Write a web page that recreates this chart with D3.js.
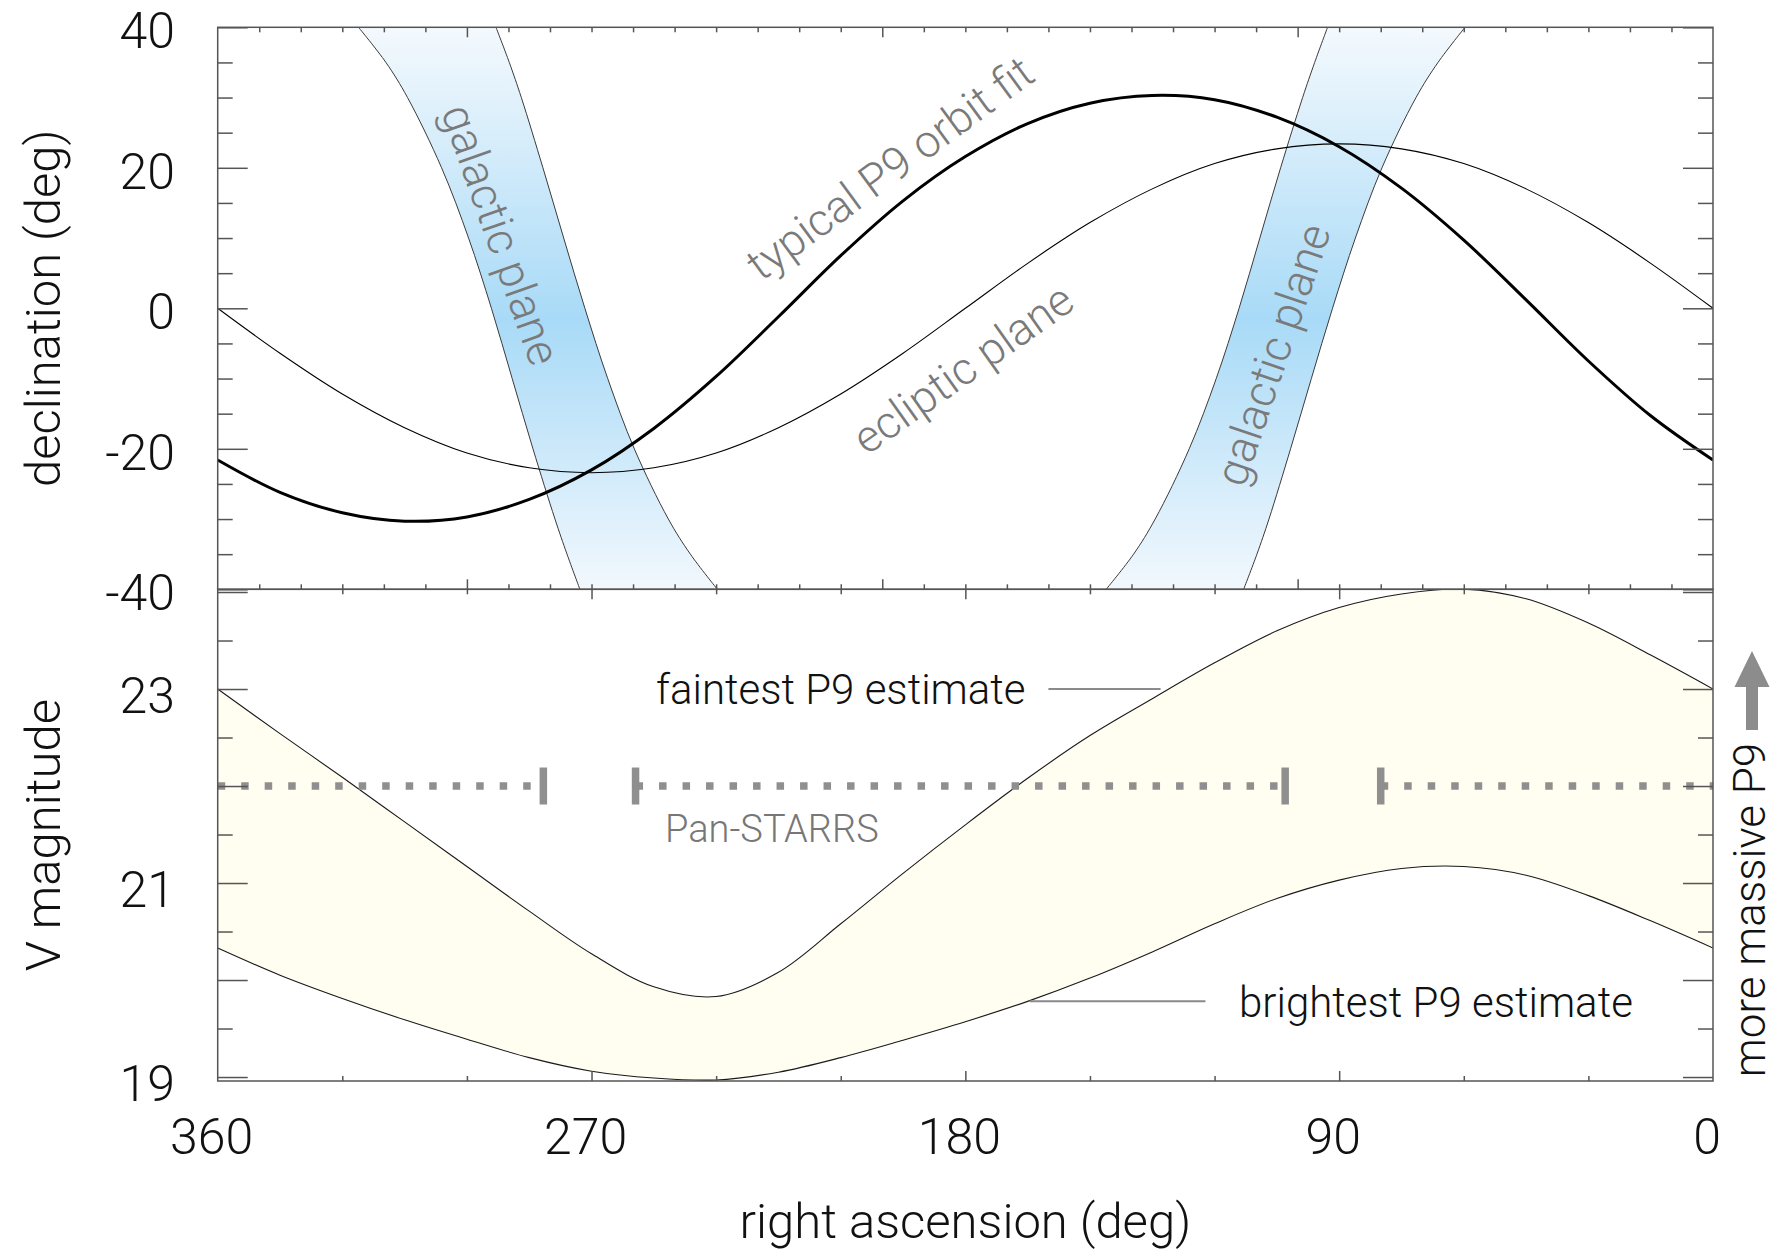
<!DOCTYPE html>
<html>
<head>
<meta charset="utf-8">
<script src="https://cdn.jsdelivr.net/npm/d3@7"></script>
<style>
  body { margin: 0; background: #fff; }
  svg text { font-family: Roboto, "Liberation Sans", sans-serif; font-weight: 300; }
</style>
</head>
<body>
<svg id="chart" width="1777" height="1252"></svg>
<script>
// right ascension grid (deg), shared by the curves below
const raGrid = [360, 345, 330, 315, 300, 285, 270, 255, 240, 225, 210, 195, 180,
                165, 150, 135, 120, 105, 90, 75, 60, 45, 30, 15, 0];

// declination of the typical P9 orbit fit and of the ecliptic (deg)
const p9Dec = [-21.6, -26.2, -29.1, -30.3, -29.7, -27.2, -23.0, -17.1, -9.7, -1.2, 7.5, 15.3, 21.6,
               26.3, 29.2, 30.3, 29.7, 27.2, 23.0, 17.1, 9.7, 1.2, -7.5, -15.3, -21.6];
const eclipticDec = [0, -6.4, -12.2, -17.0, -20.6, -22.7, -23.4, -22.7, -20.6, -17.0, -12.2, -6.4, 0,
                     6.4, 12.2, 17.0, 20.6, 22.7, 23.4, 22.7, 20.6, 17.0, 12.2, 6.4, 0];

// galactic plane bands: RA of both edges at each declination
const galDec = [-40, -35, -30, -20, -10, 0, 10, 20, 30, 35, 40];
const galWestEdgeA = [239.7, 246.2, 251.5, 259.7, 266.1, 271.6, 276.7, 281.7, 286.9, 289.8, 293.0];
const galWestEdgeB = [272.8, 275.9, 278.8, 284.1, 289.1, 294.1, 299.6, 306.1, 314.3, 319.5, 326.1];
const galEastEdgeA = [146.1, 139.5, 134.3, 126.1, 119.6, 114.1, 109.1, 104.1, 98.8, 95.9, 92.8];
const galEastEdgeB = [113.0, 109.8, 106.9, 101.7, 96.7, 91.6, 86.1, 79.7, 71.5, 66.2, 59.7];

// V magnitude range of P9
const faintestMag = [23.00, 22.54, 22.09, 21.63, 21.17, 20.71, 20.27, 19.93, 19.83, 20.08, 20.58, 21.10, 21.60,
                     22.08, 22.52, 22.90, 23.27, 23.60, 23.84, 23.98, 24.03, 23.93, 23.68, 23.35, 23.00];
const brightestMag = [20.33, 20.05, 19.81, 19.59, 19.39, 19.20, 19.06, 18.99, 18.97, 19.05, 19.20, 19.38, 19.57,
                      19.78, 20.02, 20.29, 20.58, 20.84, 21.03, 21.15, 21.17, 21.08, 20.87, 20.61, 20.33];

// Pan-STARRS limit and RA coverage
const panstarrsLimit = 22;
const panstarrsSegments = [[360, 281.6], [259.4, 103], [80, 0]];

// tick labels
const decTickLabels = [40, 20, 0, -20, -40];
const magTickLabels = [23, 21, 19];
const raTickLabels = [360, 270, 180, 90, 0];

const PLOT_L = 217.7, PLOT_R = 1713, TOP_T = 27.3, TOP_B = 589.3, BOT_B = 1081;
const AXIS_COLOR = '#555';

const svg = d3.select('#chart');

const x = d3.scaleLinear().domain([360, 0]).range([PLOT_L, PLOT_R]);
const yTop = d3.scaleLinear().domain([-40, 40]).range([TOP_B, TOP_T]);
const yBot = d3.scaleLinear().domain([18.959, 24.028]).range([BOT_B, TOP_B]);

const defs = svg.append('defs');
const grad = defs.append('linearGradient')
    .attr('id', 'galGrad')
    .attr('gradientUnits', 'userSpaceOnUse')
    .attr('x1', 0).attr('y1', TOP_T).attr('x2', 0).attr('y2', TOP_B);
grad.append('stop').attr('offset', 0).attr('stop-color', '#f4f9fd');
grad.append('stop').attr('offset', 0.52).attr('stop-color', '#a8daf7');
grad.append('stop').attr('offset', 1).attr('stop-color', '#f2f8fd');

defs.append('clipPath').attr('id', 'clipTop')
    .append('rect').attr('x', PLOT_L).attr('y', TOP_T)
    .attr('width', PLOT_R - PLOT_L).attr('height', TOP_B - TOP_T);
defs.append('clipPath').attr('id', 'clipBot')
    .append('rect').attr('x', PLOT_L).attr('y', TOP_B)
    .attr('width', PLOT_R - PLOT_L).attr('height', BOT_B - TOP_B);

const curve = d3.curveCatmullRom.alpha(0.5);

// ---------- top panel ----------
const topG = svg.append('g').attr('clip-path', 'url(#clipTop)');

function drawBand(edgeA, edgeB) {
    const rows = galDec.map((d, i) => ({dec: d, a: edgeA[i], b: edgeB[i]}));
    topG.append('path')
        .datum(rows)
        .attr('fill', 'url(#galGrad)')
        .attr('d', d3.area().curve(curve)
            .y(d => yTop(d.dec)).x0(d => x(d.a)).x1(d => x(d.b)));
    [edgeA, edgeB].forEach(edge => {
        topG.append('path')
            .datum(galDec.map((d, i) => [edge[i], d]))
            .attr('fill', 'none')
            .attr('stroke', '#3a3a3a')
            .attr('stroke-width', 1)
            .attr('d', d3.line().curve(curve).x(d => x(d[0])).y(d => yTop(d[1])));
    });
}
drawBand(galWestEdgeA, galWestEdgeB);
drawBand(galEastEdgeA, galEastEdgeB);

const decLine = d3.line().curve(curve).x(d => x(d[0])).y(d => yTop(d[1]));

topG.append('path')
    .datum(raGrid.map((r, i) => [r, eclipticDec[i]]))
    .attr('fill', 'none').attr('stroke', '#000').attr('stroke-width', 1.1)
    .attr('d', decLine);

topG.append('path')
    .datum(raGrid.map((r, i) => [r, p9Dec[i]]))
    .attr('fill', 'none').attr('stroke', '#000').attr('stroke-width', 3)
    .attr('d', decLine);

// ---------- bottom panel ----------
const botG = svg.append('g').attr('clip-path', 'url(#clipBot)');
const magRows = raGrid.map((r, i) => ({ra: r, faint: faintestMag[i], bright: brightestMag[i]}));

botG.append('path')
    .datum(magRows)
    .attr('fill', '#fffef0')
    .attr('d', d3.area().curve(curve)
        .x(d => x(d.ra)).y0(d => yBot(d.bright)).y1(d => yBot(d.faint)));

['faint', 'bright'].forEach(key => {
    botG.append('path')
        .datum(magRows)
        .attr('fill', 'none').attr('stroke', '#1a1a1a').attr('stroke-width', 1.1)
        .attr('d', d3.line().curve(curve).x(d => x(d.ra)).y(d => yBot(d[key])));
});

// Pan-STARRS coverage
const psY = yBot(panstarrsLimit);
panstarrsSegments.forEach(seg => {
    botG.append('line')
        .attr('x1', x(seg[0])).attr('x2', x(seg[1]))
        .attr('y1', psY).attr('y2', psY)
        .attr('stroke', '#8f8f8f').attr('stroke-width', 7.5)
        .attr('stroke-dasharray', '7.5,16');
    seg.filter(r => r !== 360 && r !== 0).forEach(r => {
        botG.append('line')
            .attr('x1', x(r)).attr('x2', x(r))
            .attr('y1', psY - 18.5).attr('y2', psY + 18.5)
            .attr('stroke', '#8f8f8f').attr('stroke-width', 7.5);
    });
});

// ---------- ticks ----------
function ticks(axisFn, scale, values, len, tx, ty) {
    const g = svg.append('g')
        .attr('transform', `translate(${tx},${ty})`)
        .call(axisFn(scale).tickValues(values).tickSize(-len).tickSizeOuter(0).tickFormat(''));
    g.select('.domain').remove();
    g.selectAll('line').attr('stroke', AXIS_COLOR).attr('stroke-width', 1.5);
}

const range = (a, b, s) => d3.range(a, b + s / 2, s);
const decMajor = range(-40, 40, 20);
const decMinor = range(-40, 40, 5).filter(v => !decMajor.includes(v));
const magMajor = range(19, 24, 1);
const magMinor = range(19.5, 23.5, 1);
const raTopMajor = [300, 200, 100];
const raTopMinor = range(10, 350, 10).filter(v => !raTopMajor.includes(v));
const raBotMajor = [270, 180, 90];
const raBotMinor = [330, 300, 240, 210, 150, 120, 60, 30];

[[d3.axisLeft, PLOT_L], [d3.axisRight, PLOT_R]].forEach(([fn, px]) => {
    ticks(fn, yTop, decMajor, 30, px, 0);
    ticks(fn, yTop, decMinor, 15, px, 0);
    ticks(fn, yBot, magMajor, 30, px, 0);
    ticks(fn, yBot, magMinor, 15, px, 0);
});
ticks(d3.axisTop, x, raTopMajor, 10, 0, TOP_T);
ticks(d3.axisTop, x, raTopMinor, 5, 0, TOP_T);
ticks(d3.axisBottom, x, raTopMajor, 10, 0, TOP_B);
ticks(d3.axisBottom, x, raTopMinor, 5, 0, TOP_B);
ticks(d3.axisTop, x, raBotMajor, 10, 0, TOP_B);
ticks(d3.axisTop, x, raBotMinor, 5, 0, TOP_B);
ticks(d3.axisBottom, x, raBotMajor, 10, 0, BOT_B);
ticks(d3.axisBottom, x, raBotMinor, 5, 0, BOT_B);

[[TOP_T, TOP_B], [TOP_B, BOT_B]].forEach(([y0, y1]) => {
    svg.append('rect')
        .attr('x', PLOT_L).attr('y', y0)
        .attr('width', PLOT_R - PLOT_L).attr('height', y1 - y0)
        .attr('fill', 'none').attr('stroke', AXIS_COLOR).attr('stroke-width', 1.5);
});

// ---------- tick labels ----------
svg.append('g').selectAll('text').data(decTickLabels).join('text')
    .attr('x', 175).attr('y', d => yTop(d) + 3.3 + 17.8)
    .attr('text-anchor', 'end').attr('font-size', 50).attr('fill', '#111')
    .text(d => d);

svg.append('g').selectAll('text').data(magTickLabels).join('text')
    .attr('x', 175).attr('y', d => yBot(d) + 6.5 + 17.8)
    .attr('text-anchor', 'end').attr('font-size', 50).attr('fill', '#111')
    .text(d => d);

svg.append('g').selectAll('text').data(raTickLabels).join('text')
    .attr('x', d => x(d) - 6).attr('y', 1154)
    .attr('text-anchor', 'middle').attr('font-size', 50).attr('fill', '#111')
    .text(d => d);

// ---------- axis titles ----------
function label(txt, px, py, angle, size, color, anchor) {
    return svg.append('text')
        .attr('transform', `translate(${px},${py}) rotate(${angle})`)
        .attr('text-anchor', anchor || 'middle')
        .attr('font-size', size).attr('fill', color)
        .text(txt);
}

label('declination (deg)', 60, (TOP_T + TOP_B) / 2, -90, 49, '#111');
label('V magnitude', 60, (TOP_B + BOT_B) / 2, -90, 49, '#111');
label('right ascension (deg)', (PLOT_L + PLOT_R) / 2, 1238, 0, 49, '#111');
label('more massive P9', 1765, 910, -90, 44, '#111');

// arrow towards fainter (more massive) P9
const ax = 1752;
svg.append('path')
    .attr('d', `M${ax},651 L${ax + 17.5},687 L${ax + 6},687 L${ax + 6},730 L${ax - 6},730 L${ax - 6},687 L${ax - 17.5},687 Z`)
    .attr('fill', '#8c8c8c');

// ---------- annotations ----------
function centered(txt, ra, dec, angle, size) {
    label(txt, x(ra), yTop(dec), angle, size, '#7a7a7a').attr('dy', '0.35em');
}
centered('galactic plane', 291.8, 10.5, 70.6, 45);
centered('galactic plane', 106.0, -6.6, -71.3, 45);
centered('typical P9 orbit fit', 198.2, 20.0, -36.3, 45);
centered('ecliptic plane', 180.6, -8.6, -35.3, 45);

label('faintest P9 estimate', 656, 704, 0, 42, '#111', 'start');
label('brightest P9 estimate', 1239, 1017, 0, 42, '#111', 'start');
label('Pan-STARRS', 665, 842, 0, 38, '#777', 'start');

svg.append('line')
    .attr('x1', x(160)).attr('x2', x(133)).attr('y1', yBot(23.0)).attr('y2', yBot(23.0))
    .attr('stroke', '#8a8a8a').attr('stroke-width', 2);
svg.append('line')
    .attr('x1', x(164.5)).attr('x2', x(122.2)).attr('y1', yBot(19.78)).attr('y2', yBot(19.78))
    .attr('stroke', '#8a8a8a').attr('stroke-width', 2);
</script>
</body>
</html>
